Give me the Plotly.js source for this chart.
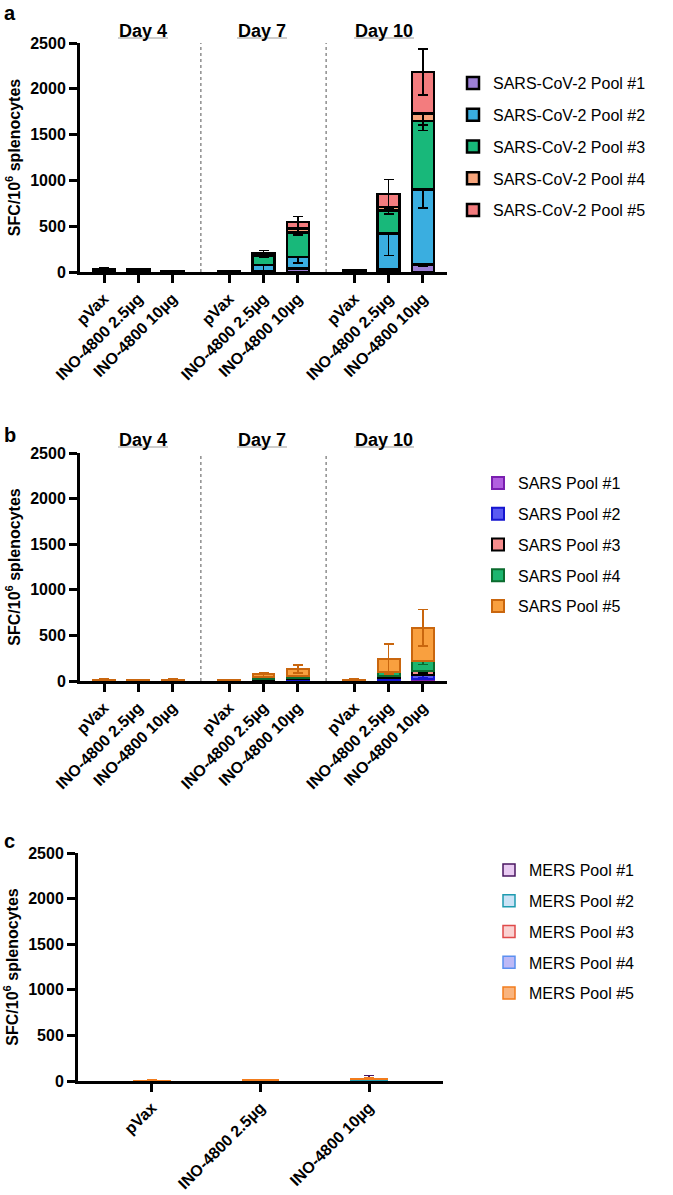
<!DOCTYPE html>
<html><head><meta charset="utf-8">
<script src="https://cdn.plot.ly/plotly-3.0.1.min.js"></script>
<style>html,body{margin:0;padding:0;background:#fff}#chart{width:673px;height:1195px}</style>
</head><body><div id="chart"></div>
<script>
// ---------- data ----------
const dayLabels = ['Day 4', 'Day 7', 'Day 10'];
const treatments = ['pVax', 'INO-4800 2.5\u00b5g', 'INO-4800 10\u00b5g'];

// Panel a: SARS-CoV-2 pools (order: Day4 x3, Day7 x3, Day10 x3)
const aNames = ['SARS-CoV-2 Pool #1','SARS-CoV-2 Pool #2','SARS-CoV-2 Pool #3','SARS-CoV-2 Pool #4','SARS-CoV-2 Pool #5'];
const aPool1 = [8, 6, 3, 2, 10, 40, 4, 30, 80];
const aPool2 = [10, 8, 3, 2, 65, 125, 5, 390, 820];
const aPool3 = [8, 6, 2, 1, 105, 265, 4, 250, 750];
const aPool4 = [4, 3, 1, 1, 10, 45, 3, 40, 80];
const aPool5 = [5, 3, 1, 1, 10, 70, 4, 140, 455];
const aErr1 = [5, 4, 2, 1, 19, 11, 2, 35, 17];
const aErr2 = [6, 5, 2, 1, 68, 68, 3, 240, 200];
const aErr3 = [5, 4, 2, 1, 20, 30, 2, 40, 107];
const aErr4 = [3, 2, 1, 1, 5, 60, 1, 70, 126];
const aErr5 = [8, 5, 3, 2, 33, 61, 5, 158, 250];

// Panel b: SARS pools
const bNames = ['SARS Pool #1','SARS Pool #2','SARS Pool #3','SARS Pool #4','SARS Pool #5'];
const bPool1 = [3, 3, 3, 3, 8, 10, 3, 15, 20];
const bPool2 = [2, 2, 2, 2, 8, 12, 2, 15, 45];
const bPool3 = [2, 2, 2, 2, 10, 13, 2, 30, 50];
const bPool4 = [2, 2, 2, 2, 17, 25, 2, 35, 105];
const bPool5 = [6, 5, 6, 5, 30, 72, 6, 145, 365];
const bErr1 = [2, 2, 2, 2, 5, 8, 2, 8, 10];
const bErr2 = [2, 2, 2, 2, 5, 8, 2, 10, 25];
const bErr3 = [2, 2, 2, 2, 5, 8, 2, 15, 25];
const bErr4 = [2, 2, 2, 2, 12, 20, 2, 25, 40];
const bErr5 = [5, 5, 5, 5, 22, 45, 5, 165, 200];

// Panel c: MERS pools (pVax, 2.5ug, 10ug)
const cNames = ['MERS Pool #1','MERS Pool #2','MERS Pool #3','MERS Pool #4','MERS Pool #5'];
const cPool1 = [2, 3, 10];
const cPool2 = [2, 3, 5];
const cPool3 = [1, 2, 5];
const cPool4 = [1, 2, 4];
const cPool5 = [2, 3, 6];
const cErr1 = [1, 2, 48];
const cErr2 = [1, 2, 4];
const cErr3 = [1, 1, 4];
const cErr4 = [1, 1, 3];
const cErr5 = [1, 2, 5];

// ---------- layout helpers ----------
const W = 673, H = 1195;
const FONT = 'Liberation Sans, Arial, Helvetica, sans-serif';
const GAP = 0.65;
const xsABC = [];
const ticktextABC = [];
dayLabels.forEach((d, g) => treatments.forEach((t, i) => { xsABC.push(g * (3 + GAP) + i); ticktextABC.push(t); }));
const xsC = treatments.map((t, i) => i);

const px = v => v / W;
const py = v => 1 - v / H;

const aStyle = [
  {fill: '#9C7FD6', line: '#000000'},
  {fill: '#3AAEE0', line: '#000000'},
  {fill: '#18B87A', line: '#000000'},
  {fill: '#F6A47B', line: '#000000'},
  {fill: '#F37C7E', line: '#000000'}
];
const bStyle = [
  {fill: '#B25FE0', line: '#7A1FB0'},
  {fill: '#5A5AF2', line: '#1616D0'},
  {fill: '#F58C8C', line: '#000000'},
  {fill: '#1CB56F', line: '#0B6B2E'},
  {fill: '#F9A03F', line: '#C9660E'}
];
const cStyle = [
  {fill: '#E9CBF2', line: '#4A1762'},
  {fill: '#CBE3F6', line: '#1E9BB0'},
  {fill: '#FAD2D2', line: '#E04A4A'},
  {fill: '#BDB9F6', line: '#5B90F0'},
  {fill: '#F9B47E', line: '#F27C1C'}
];

const traces = [];
function addPanel(names, pools, errs, style, xs, xa, ya, leg, lw, barW, errColorBlack) {
  names.forEach((n, k) => {
    traces.push({
      type: 'bar', x: xs, y: pools[k], name: n, xaxis: xa, yaxis: ya,
      legend: leg, legendgroup: leg + k, width: barW,
      marker: {color: style[k].fill, line: {color: style[k].line, width: lw}},
      error_y: {type: 'data', array: errs[k], visible: true,
        color: errColorBlack ? '#000000' : style[k].line, thickness: 1.5, width: 5},
      hoverinfo: 'skip'
    });
  });
}
addPanel(aNames, [aPool1, aPool2, aPool3, aPool4, aPool5], [aErr1, aErr2, aErr3, aErr4, aErr5], aStyle, xsABC, 'x', 'y', 'legend', 2.5, 0.64, true);
addPanel(bNames, [bPool1, bPool2, bPool3, bPool4, bPool5], [bErr1, bErr2, bErr3, bErr4, bErr5], bStyle, xsABC, 'x2', 'y2', 'legend2', 2, 0.64, false);
addPanel(cNames, [cPool1, cPool2, cPool3, cPool4, cPool5], [cErr1, cErr2, cErr3, cErr4, cErr5], cStyle, xsC, 'x3', 'y3', 'legend3', 1.5, 0.33, false);

const yTitle = {text: 'SFC/10<sup>6</sup> splenocytes', font: {size: 16, family: FONT, color: '#000', weight: 'bold'}, standoff: 6};
function yAxis(dom, anchor) {
  return {domain: dom, anchor: anchor, range: [0, 2500], tickvals: [0, 500, 1000, 1500, 2000, 2500],
    showline: true, linewidth: 3, linecolor: '#000', ticks: 'outside', ticklen: 8, tickwidth: 3, tickcolor: '#000',
    showgrid: false, zeroline: false, tickfont: {size: 16, family: FONT, color: '#000', weight: 'bold'},
    title: yTitle, fixedrange: true};
}
function xAxis(dom, anchor, range, vals, text) {
  return {domain: dom, anchor: anchor, range: range, tickvals: vals, ticktext: text, tickangle: -45,
    showline: true, linewidth: 3, linecolor: '#000', ticks: 'outside', ticklen: 8, tickwidth: 3, tickcolor: '#000',
    showgrid: false, zeroline: false, tickfont: {size: 16, family: FONT, color: '#000', weight: 'bold'}, fixedrange: true};
}

const xRangeAB = [-0.70, 10.0];
const layout = {
  width: W, height: H, margin: {l: 0, r: 0, t: 0, b: 0},
  paper_bgcolor: '#fff', plot_bgcolor: 'rgba(0,0,0,0)',
  barmode: 'stack', showlegend: true,
  font: {family: FONT, color: '#000'},
  xaxis: xAxis([px(80), px(447)], 'y', xRangeAB, xsABC, ticktextABC),
  yaxis: yAxis([py(272), py(43)], 'x'),
  xaxis2: xAxis([px(80), px(447)], 'y2', xRangeAB, xsABC, ticktextABC),
  yaxis2: yAxis([py(681), py(453)], 'x2'),
  xaxis3: xAxis([px(78), px(443)], 'y3', [-0.68, 2.68], xsC, treatments),
  yaxis3: yAxis([py(1081), py(853)], 'x3'),
  legend: {x: px(453), y: py(66), xanchor: 'left', yanchor: 'top', traceorder: 'grouped', tracegroupgap: 8,
    font: {size: 16, family: FONT, color: '#000'}, bgcolor: 'rgba(0,0,0,0)'},
  legend2: {x: px(478), y: py(466), xanchor: 'left', yanchor: 'top', traceorder: 'grouped', tracegroupgap: 7,
    font: {size: 16, family: FONT, color: '#000'}, bgcolor: 'rgba(0,0,0,0)'},
  legend3: {x: px(489), y: py(853), xanchor: 'left', yanchor: 'top', traceorder: 'grouped', tracegroupgap: 7,
    font: {size: 16, family: FONT, color: '#000'}, bgcolor: 'rgba(0,0,0,0)'},
  annotations: [],
  shapes: []
};

// Panel letters
[['a', 0], ['b', 422], ['c', 828]].forEach(([t, y]) => layout.annotations.push({
  text: '<b>' + t + '</b>', xref: 'paper', yref: 'paper', x: px(2), y: py(y), xanchor: 'left', yanchor: 'top',
  showarrow: false, font: {size: 20, family: FONT, color: '#000'}
}));

// Day headers with underline, and dotted separators, for panels a and b
const headerCenters = [143, 262, 384];
const headerHalfW = [25, 25, 30];
[[31, 38, 'x', 'y'], [440, 447, 'x2', 'y2']].forEach(([ty, uy, xa, ya]) => {
  dayLabels.forEach((d, g) => {
    layout.annotations.push({text: '<b>' + d + '</b>', xref: 'paper', yref: 'paper', x: px(headerCenters[g]), y: py(ty),
      xanchor: 'center', yanchor: 'middle', showarrow: false, font: {size: 18, family: FONT, color: '#000'}});
    layout.shapes.push({type: 'line', xref: 'paper', yref: 'paper',
      x0: px(headerCenters[g] - headerHalfW[g]), x1: px(headerCenters[g] + headerHalfW[g]), y0: py(uy), y1: py(uy),
      line: {color: '#9a9a9a', width: 1}});
  });
  [1, 2].forEach(g => {
    const xv = (xsABC[3 * g - 1] + xsABC[3 * g]) / 2;
    layout.shapes.push({type: 'line', xref: xa, yref: ya + ' domain', x0: xv, x1: xv, y0: 0, y1: 1,
      line: {color: '#555', width: 1, dash: 'dot'}, layer: 'below'});
  });
});

Plotly.newPlot('chart', traces, layout, {staticPlot: true, displayModeBar: false});
</script>
</body></html>
